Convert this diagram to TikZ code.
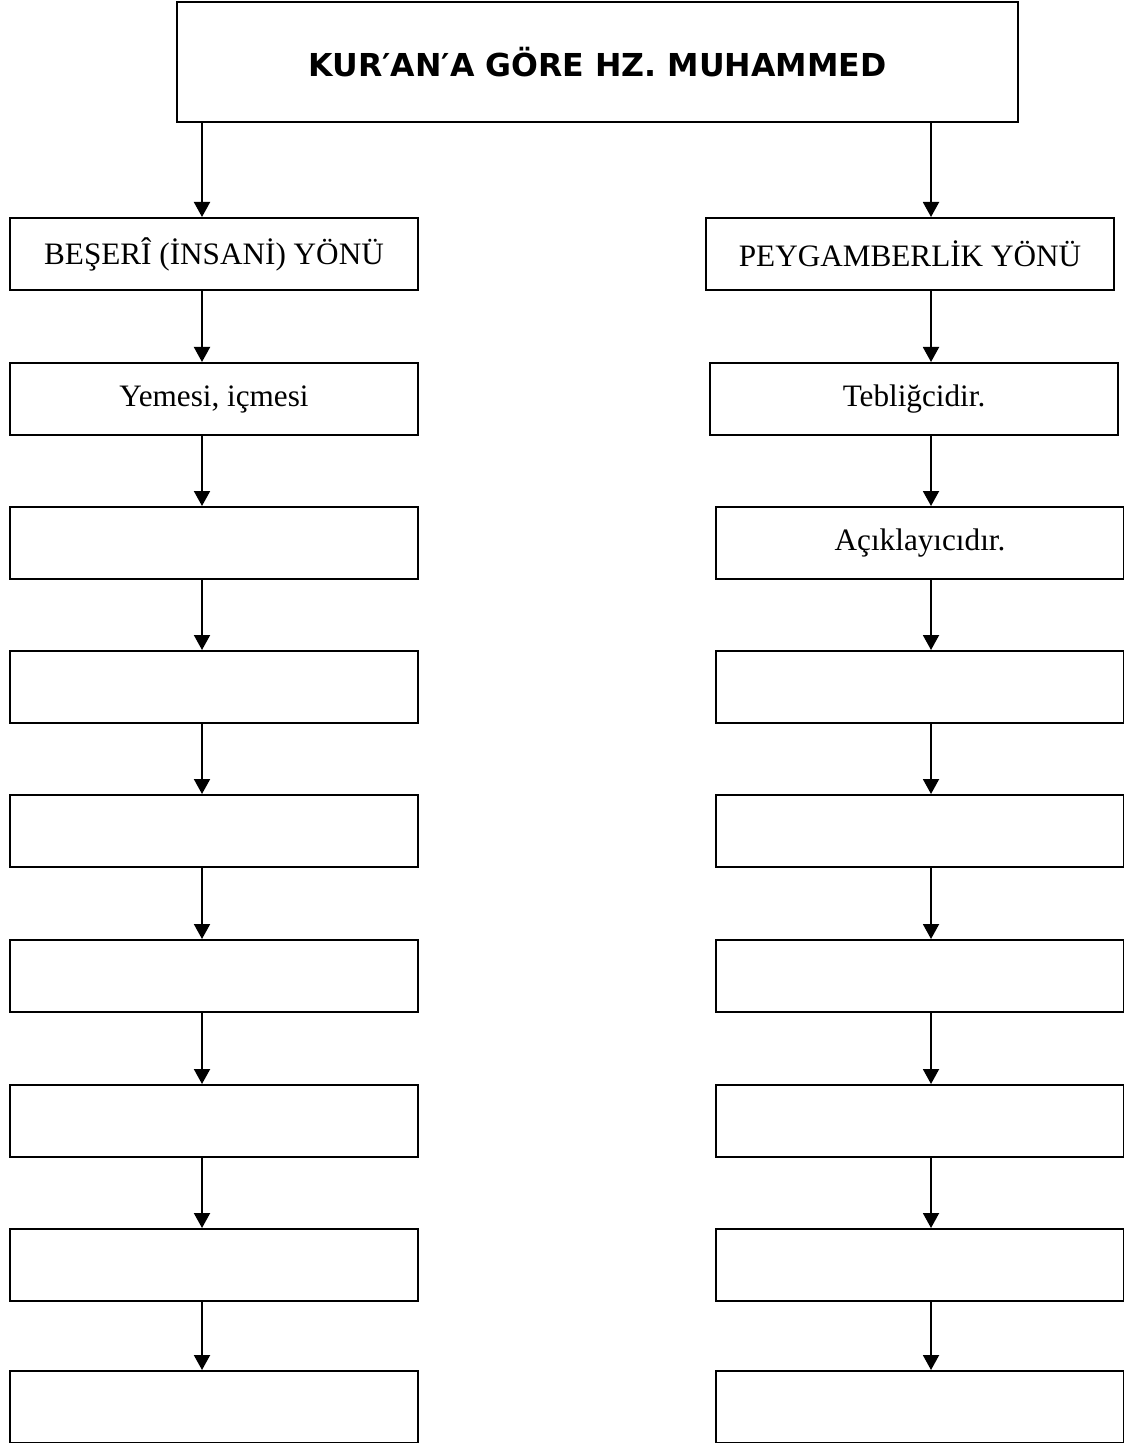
\documentclass[tikz,border=0pt]{standalone}
\usepackage{fontspec}
\setmainfont{Liberation Serif}
\newfontfamily\titlefont{DejaVu Sans}
\usetikzlibrary{arrows.meta}

\begin{document}
\begin{tikzpicture}[x=0.5pt,y=-0.5pt]
    \tikzset{
        boxstyle/.style={draw, line width=1pt, inner sep=0pt, minimum width=204pt, minimum height=36pt, font=\fontsize{15.6}{18}\selectfont},
        arrowstyle/.style={line width=1pt, -{Triangle[width=8pt,length=7.5pt]}}
    }
    \useasboundingbox (0,0) rectangle (1123,1443);

    % Baslik
    \node[draw, line width=1pt, inner sep=0pt, minimum width=420.5pt, minimum height=60pt, font=\titlefont\bfseries\fontsize{15.8}{18}\selectfont] (title) at (597.5,62) {KUR′AN′A GÖRE HZ. MUHAMMED};

    % Sol sutun: beseri yonu
    \node[boxstyle] (l1) at (214,254) {BEŞERÎ (İNSANİ) YÖNÜ};
    \node[boxstyle] (l2) at (214,399) {Yemesi, içmesi};
    \foreach \i/\y in {3/543,4/687,5/831,6/976,7/1121,8/1265,9/1407}
        \node[boxstyle] (l\i) at (214,\y) {};

    % Sag sutun: peygamberlik yonu
    \node[boxstyle] (r1) at (910,254) {PEYGAMBERLİK YÖNÜ};
    \node[boxstyle] (r2) at (914,399) {Tebliğcidir.};
    \node[boxstyle] (r3) at (920,543) {Açıklayıcıdır.};
    \foreach \i/\y in {4/687,5/831,6/976,7/1121,8/1265,9/1407}
        \node[boxstyle] (r\i) at (920,\y) {};

    % Oklar
    \coordinate (lx) at (202,0);
    \coordinate (rx) at (931,0);
    \draw[arrowstyle] (title.south -| lx) -- (l1.north -| lx);
    \draw[arrowstyle] (title.south -| rx) -- (r1.north -| rx);
    \foreach \a/\b in {1/2,2/3,3/4,4/5,5/6,6/7,7/8,8/9} {
        \draw[arrowstyle] (l\a.south -| lx) -- (l\b.north -| lx);
        \draw[arrowstyle] (r\a.south -| rx) -- (r\b.north -| rx);
    }

\end{tikzpicture}
\end{document}
